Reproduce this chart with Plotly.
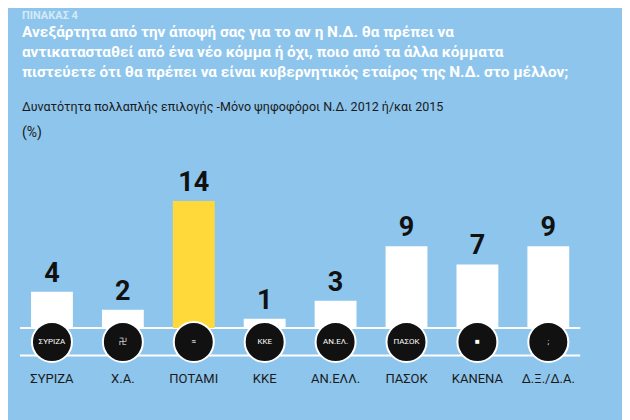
import plotly.graph_objects as go

parties = ["ΣΥΡΙΖΑ", "Χ.Α.", "ΠΟΤΑΜΙ", "ΚΚΕ", "ΑΝ.ΕΛΛ.", "ΠΑΣΟΚ", "ΚΑΝΕΝΑ", "Δ.Ξ./Δ.Α."]
values = [4, 2, 14, 1, 3, 9, 7, 9]
logo_text = ["ΣΥΡΙΖΑ", "卍", "≈", "ΚΚΕ", "ΑΝ.ΕΛ.", "ΠΑΣΟΚ", "■", ";"]
highlight = "ΠΟΤΑΜΙ"

BG = "#8ec5ec"
FONT = "Roboto, sans-serif"

x = list(range(len(parties)))
colors = ["#ffd93a" if p == highlight else "white" for p in parties]

fig = go.Figure()
fig.add_bar(x=x, y=values, width=0.59, marker=dict(color=colors, line_width=0),
            text=["<b>%d</b>" % v for v in values], textposition="outside",
            textfont=dict(family="Roboto", size=27, color="#111111"),
            cliponaxis=False, hoverinfo="skip")
# party logo discs
fig.add_scatter(x=x, y=[-1.55] * len(x), mode="markers+text",
                marker=dict(size=40, color="#111111", line=dict(color="white", width=2)),
                text=logo_text, textfont=dict(family=FONT, size=8, color="white"),
                textposition="middle center", hoverinfo="skip")
# category labels
fig.add_scatter(x=x, y=[-5.75] * len(x), mode="text", text=parties,
                textfont=dict(family=FONT, size=13, color="#1a1a1a"), hoverinfo="skip")

for yl in [0, -3.05]:
    fig.add_shape(type="line", x0=-0.45, x1=7.45, y0=yl, y1=yl, layer="below",
                  line=dict(color="white", width=2))

anns = [
    dict(text="<b>ΠΙΝΑΚΑΣ 4</b>", y=421, size=11, color="#d4e9f7"),
    dict(text="<b>Ανεξάρτητα από την άποψή σας για το αν η Ν.Δ. θα πρέπει να<br>"
              "αντικατασταθεί από ένα νέο κόμμα ή όχι, ποιο από τα άλλα κόμματα<br>"
              "πιστεύετε ότι θα πρέπει να είναι κυβερνητικός εταίρος της Ν.Δ. στο μέλλον;</b>",
         y=407, size=15.3, color="white"),
    dict(text="Δυνατότητα πολλαπλής επιλογής -Μόνο ψηφοφόροι Ν.Δ. 2012 ή/και 2015",
         y=331, size=12.5, color="#1a1a1a"),
    dict(text="(%)", y=306, size=14, color="#1a1a1a"),
]
for a in anns:
    fig.add_annotation(text=a["text"], xref="paper", yref="paper", x=12 / 630, y=a["y"] / 420,
                       xanchor="left", yanchor="top", showarrow=False, align="left",
                       font=dict(family=FONT, size=a["size"], color=a["color"]))

fig.update_layout(
    width=630, height=420, margin=dict(l=0, r=0, t=0, b=0),
    paper_bgcolor=BG, plot_bgcolor=BG, showlegend=False,
    xaxis=dict(range=[-0.62, 8.265], visible=False, fixedrange=True),
    yaxis=dict(range=[-11.03, 35.27], visible=False, fixedrange=True),
)

fig.write_html("out.html")
